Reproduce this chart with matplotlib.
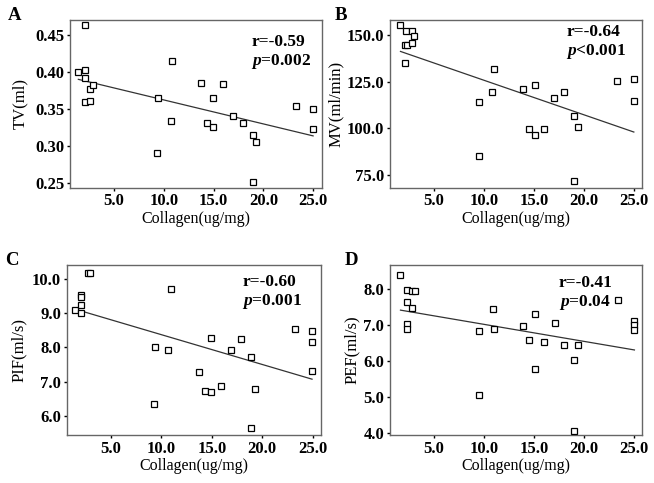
import numpy as np
import matplotlib
matplotlib.use("Agg")
import matplotlib.pyplot as plt
from matplotlib.ticker import FormatStrFormatter

plt.rcParams['font.family'] = ['Liberation Serif', 'DejaVu Serif']
plt.rcParams['font.weight'] = 'bold'
plt.rcParams['mathtext.fontset'] = 'custom'
plt.rcParams['mathtext.it'] = 'Liberation Serif:italic:bold'
plt.rcParams['mathtext.rm'] = 'Liberation Serif:bold'

# panel A: TV
a_x = [1.44, 2.11, 2.11, 2.11, 2.11, 2.61, 2.61, 2.94, 9.41, 9.31, 10.75, 10.88, 13.69,
       14.33, 14.97, 14.97, 15.94, 16.98, 17.95, 18.92, 18.92, 19.25, 23.31, 24.98, 24.98]
a_y = [0.400, 0.463, 0.402, 0.392, 0.359, 0.376, 0.361, 0.382, 0.364, 0.290, 0.334, 0.415, 0.384,
       0.330, 0.364, 0.325, 0.383, 0.340, 0.330, 0.314, 0.251, 0.305, 0.354, 0.350, 0.323]

# panel B: MV
b_x = [1.67, 2.27, 2.84, 3.04, 2.17, 2.34, 2.84, 2.17, 9.56, 9.50, 10.87, 11.07, 13.88,
       14.51, 15.12, 15.12, 16.05, 16.99, 18.06, 18.99, 18.99, 19.40, 23.31, 25.01, 25.01]
b_y = [155.0, 152.1, 152.1, 149.5, 144.7, 144.7, 145.4, 134.9, 113.9, 85.5, 119.4, 131.7, 121.2,
       99.5, 123.3, 96.7, 99.5, 116.1, 119.3, 106.5, 71.8, 100.8, 125.1, 126.5, 114.5]

# panel C: PIF
c_x = [1.44, 2.00, 2.00, 2.00, 2.00, 2.67, 2.94, 9.26, 9.40, 10.70, 10.97, 13.74, 14.28,
       14.88, 14.88, 15.92, 16.92, 17.86, 18.93, 18.93, 19.26, 23.24, 24.95, 24.95, 24.95]
c_y = [9.10, 8.99, 9.23, 9.54, 9.47, 10.16, 10.16, 6.34, 8.02, 7.92, 9.71, 7.29, 6.72,
       6.69, 8.28, 6.88, 7.92, 8.24, 7.71, 5.65, 6.79, 8.54, 8.47, 8.16, 7.32]

# panel D: PEF
d_x = [1.67, 2.33, 2.83, 3.17, 2.33, 2.83, 2.33, 2.33, 9.57, 9.57, 10.90, 11.07, 13.90,
       14.50, 15.10, 15.10, 16.07, 17.13, 18.07, 19.00, 19.40, 19.00, 23.43, 25.07, 25.07, 25.07]
d_y = [8.39, 7.95, 7.94, 7.94, 7.63, 7.45, 7.01, 6.89, 6.83, 5.06, 7.43, 6.89, 6.97,
       6.57, 7.31, 5.76, 6.52, 7.06, 6.43, 6.01, 6.43, 4.06, 7.68, 7.10, 6.98, 6.86]

panels = [
    ('A', a_x, a_y, 'TV(ml)', [0.25, 0.30, 0.35, 0.40, 0.45], (0.243, 0.470), '%.2f',
     'r=-0.59', '=0.002', [0.107, 0.611, 0.385, 0.348], -0.165),
    ('B', b_x, b_y, 'MV(ml/min)', [75, 100, 125, 150], (68.2, 158.0), '%.1f',
     'r=-0.64', '<0.001', [0.596, 0.611, 0.386, 0.348], -0.18),
    ('C', c_x, c_y, 'PIF(ml/s)', [6, 7, 8, 9, 10], (5.44, 10.40), '%.1f',
     'r=-0.60', '=0.001', [0.102, 0.099, 0.389, 0.352], -0.155),
    ('D', d_x, d_y, 'PEF(ml/s)', [4, 5, 6, 7, 8], (3.94, 8.65), '%.1f',
     'r=-0.41', '=0.04', [0.596, 0.099, 0.386, 0.352], -0.12),
]
text_pos = {'A': (0.72, 0.87, 0.75), 'B': (0.70, 0.93, 0.81),
            'C': (0.69, 0.90, 0.785), 'D': (0.67, 0.895, 0.78)}
letter_pos = {'A': (0.022, 0.968), 'B': (0.522, 0.968), 'C': (0.018, 0.461), 'D': (0.537, 0.461)}

fig = plt.figure(figsize=(6.54, 4.83), dpi=100)

for name, xs, ys, ylab, yt, ylim, fmt, rtxt, ptxt, pos, ylx in panels:
    ax = fig.add_axes(pos)
    xs = np.array(xs)
    ys = np.array(ys)
    ax.plot(xs, ys, linestyle='none', marker='s', markersize=5, markerfacecolor='white',
            markeredgecolor='black', markeredgewidth=0.9, zorder=3)
    k, b = np.polyfit(xs, ys, 1)
    lx = np.array([xs.min(), xs.max()])
    ax.plot(lx, k * lx + b, color='#333333', linewidth=0.9, zorder=2)
    ax.set_xlim(0.6, 25.85)
    ax.set_ylim(*ylim)
    ax.set_xticks([5, 10, 15, 20, 25])
    ax.set_yticks(yt)
    ax.xaxis.set_major_formatter(FormatStrFormatter('%.1f'))
    ax.yaxis.set_major_formatter(FormatStrFormatter(fmt))
    ax.tick_params(labelsize=12, length=2.5, width=1, pad=1.5)
    for sp in ax.spines.values():
        sp.set_color('#666666')
        sp.set_linewidth(1.0)
    ax.set_xlabel('Collagen(ug/mg)', fontsize=11.5, labelpad=1)
    ax.set_ylabel(ylab, fontsize=12)
    ax.yaxis.set_label_coords(ylx, 0.5)
    tx, ry, py = text_pos[name]
    ax.text(tx, ry, rtxt, transform=ax.transAxes, fontsize=12.5, va='center')
    ax.text(tx, py, r'$\it{p}$' + ptxt, transform=ax.transAxes, fontsize=12.5, va='center')
    lx0, ly0 = letter_pos[name]
    fig.text(lx0, ly0, name, fontsize=13.5, fontweight='bold', ha='center', va='center')

fig.savefig('out.png', dpi=100)
